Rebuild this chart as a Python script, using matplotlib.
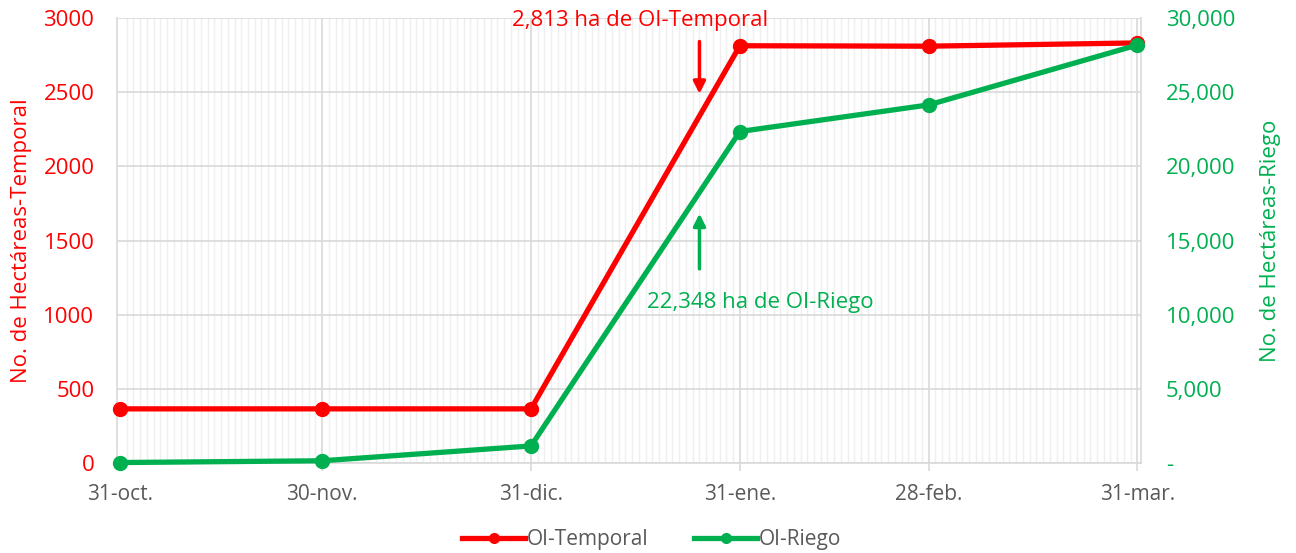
import matplotlib
matplotlib.use("Agg")
import matplotlib.pyplot as plt
import matplotlib.ticker as mticker
import numpy as np
import pandas as pd

plt.rcParams['font.family'] = ['Open Sans', 'DejaVu Sans']

# datos
fechas = pd.to_datetime(["2020-10-31", "2020-11-30", "2020-12-31",
                         "2021-01-31", "2021-02-28", "2021-03-31"])
etiquetas = ["31-oct.", "30-nov.", "31-dic.", "31-ene.", "28-feb.", "31-mar."]
temporal = [365, 365, 365, 2813, 2810, 2832]
riego = [30, 150, 1150, 22348, 24140, 28180]

rojo = "#FF0000"
verde = "#00B050"
gris = "#595959"
grid = "#D9D9D9"

dias = (fechas - fechas[0]).days.values

fig = plt.figure(figsize=(12.96, 5.53), dpi=100)
ax1 = fig.add_axes([116.6 / 1296, 1 - 463 / 553, (1140.8 - 116.6) / 1296, 445 / 553])
ax2 = ax1.twinx()

ax1.set_xlim(-0.5, dias[-1] + 0.5)
ax1.set_ylim(0, 3000)
ax2.set_ylim(0, 30000)

# rejilla diaria
for d in range(0, dias[-1] + 1):
    if d in dias:
        continue
    ax1.axvline(d, color="#EFEFEF", lw=1, zorder=0)
for d in dias[1:]:
    ax1.axvline(d, color=grid, lw=1.2, zorder=0.5)
ax1.set_yticks(np.arange(0, 3001, 500))
ax1.yaxis.grid(True, color=grid, lw=1.2, zorder=0.5)
ax1.set_axisbelow(True)

l1, = ax1.plot(dias, temporal, color=rojo, lw=3.8, marker="o", ms=10, zorder=5,
               label="OI-Temporal", clip_on=False)
l2, = ax2.plot(dias, riego, color=verde, lw=3.8, marker="o", ms=10, zorder=5,
               label="OI-Riego", clip_on=False)

ax1.set_xticks(dias)
ax1.set_xticklabels(etiquetas)
ax1.tick_params(axis="x", colors=grid, labelcolor=gris, labelsize=15, length=6,
                width=1.2, pad=9)
ax1.tick_params(axis="y", colors=rojo, labelsize=16, length=0, pad=16)
ax2.set_yticks(np.arange(0, 30001, 5000))
ax2.yaxis.set_major_formatter(mticker.FuncFormatter(
    lambda v, p: "-" if v == 0 else f"{v:,.0f}"))
ax2.tick_params(axis="y", colors=verde, labelsize=16, length=0, pad=18)

for s in ax1.spines.values():
    s.set_color(grid)
    s.set_linewidth(1.2)
ax1.spines["top"].set_visible(False)
for s in ax2.spines.values():
    s.set_visible(False)

ax1.set_ylabel("No. de Hectáreas-Temporal", color=rojo, fontsize=16, labelpad=8)
ax2.set_ylabel("No. de Hectáreas-Riego", color=verde, fontsize=16, labelpad=18)

# anotaciones
ax1.annotate("", xy=(86, 2470), xytext=(86, 2860),
             arrowprops=dict(arrowstyle="-|>", color=rojo, lw=2.5, mutation_scale=18))
ax1.text(77.2, 2985, "2,813 ha de OI-Temporal", color=rojo, fontsize=16,
         ha="center", va="center")
ax2.annotate("", xy=(86, 17000), xytext=(86, 12900),
             arrowprops=dict(arrowstyle="-|>", color=verde, lw=2.5, mutation_scale=18))
ax2.text(95, 10800, "22,348 ha de OI-Riego", color=verde, fontsize=16,
         ha="center", va="center")

fig.legend(handles=[l1, l2], loc="center", bbox_to_anchor=(0.503, 1 - 540 / 553),
           ncol=2, frameon=False, fontsize=15, labelcolor=gris, handlelength=3,
           handletextpad=0.1, columnspacing=2.2, markerscale=0.7)

fig.savefig("out.png", dpi=100)
